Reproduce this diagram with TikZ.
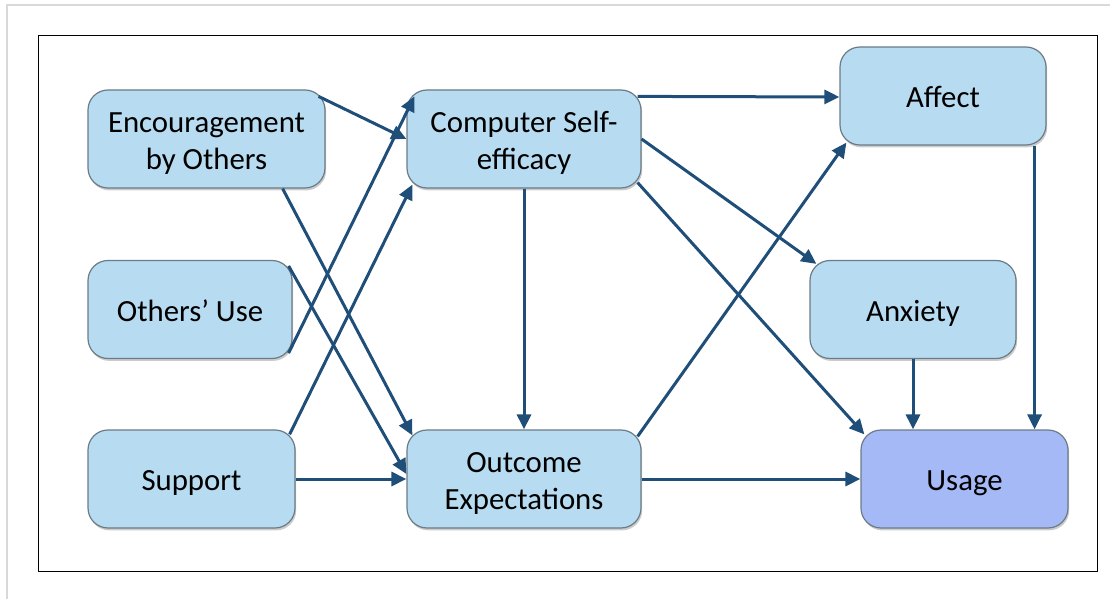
\documentclass[tikz,border=0pt]{standalone}
\usepackage{fontspec}
\setmainfont{Carlito}
\usetikzlibrary{arrows.meta,calc,shadows}
\definecolor{boxfill}{HTML}{B7DBF0}
\definecolor{usagefill}{HTML}{A5B9F6}
\definecolor{boxborder}{HTML}{6B7B87}
\definecolor{linkblue}{HTML}{1F4E79}
\definecolor{pageline}{HTML}{D9D9D9}
\newcommand\liftup{\rule{0pt}{\dimexpr0.952em+1pt\relax}}
\newcommand\dropdown{\rule[-0.269em]{0pt}{0pt}}

\begin{document}
\begin{tikzpicture}[
  x=0.5pt, y=-0.5pt,
  font=\fontsize{15.4}{18.5}\selectfont,
  >={Triangle[length=7.5pt, width=7pt]},
  factor/.style={draw=boxborder, line width=0.6pt, rounded corners=10pt, fill=boxfill, align=center, inner sep=0pt, minimum height=49pt,
    drop shadow={shadow xshift=0.6pt, shadow yshift=-1.2pt, opacity=0.4}},
  outcome/.style={factor, fill=usagefill},
  link/.style={->, draw=linkblue, line width=1.5pt}
]
\useasboundingbox (0,0) rectangle (1120,599);
\draw[pageline, line width=0.75pt] (7,599) -- (7,5) -- (1110,5);
\draw[line width=0.5pt] (38,36) rectangle (1097,571);

% antecedents
\node[factor, minimum width=118.5pt] (enc) at (206.5,139) {\liftup Encouragement\\by Others\dropdown};
\node[factor, minimum width=102pt] (others) at (190,309.5) {\liftup Others’ Use\dropdown};
\node[factor, minimum width=103.5pt] (support) at (191.5,479) {\liftup Support\dropdown};

% beliefs
\node[factor, minimum width=117pt] (cse) at (524,139) {\liftup Computer Self-\\efficacy\dropdown};
\node[factor, minimum width=117pt] (oe) at (524,479) {\liftup Outcome\\Expectations\dropdown};

% reactions and usage
\node[factor, minimum width=103pt] (affect) at (943,96) {\liftup Affect\dropdown};
\node[factor, minimum width=103pt] (anx) at (913,309.5) {\liftup Anxiety\dropdown};
\node[outcome, minimum width=103.5pt] (usage) at (964.5,479) {\liftup Usage\dropdown};

% into self-efficacy
\draw[link] ($(enc.north east)+(-7,7)$) -- (cse.west);
\draw[link] ($(others.south east)+(-4,-6)$) -- ($(cse.north west)+(8,7)$);
\draw[link] ($(support.north east)+(-6,5)$) -- ($(cse.south west)+(6,-4)$);

% into outcome expectations
\draw[link] ($(enc.south east)+(-43,0)$) -- ($(oe.north west)+(6,6)$);
\draw[link] ($(others.north east)+(-4,6)$) -- ($(oe.west)+(0,-5)$);
\draw[link] (support.east) -- (oe.west);
\draw[link] (cse.south) -- (oe.north);

% to affect, anxiety, usage
\draw[link] ($(cse.north east)+(-4,7)$) -- ($(affect.west)+(0,1)$);
\draw[link] (cse.east) -- ($(anx.north west)+(7,4)$);
\draw[link] ($(cse.south east)+(-4,-6)$) -- ($(usage.north west)+(4,5)$);
\draw[link] ($(oe.north east)+(-4,7)$) -- ($(affect.south west)+(7,-3)$);
\draw[link] (oe.east) -- (usage.west);
\draw[link] (anx.south) -- (anx.south |- usage.north);
\draw[link] ($(affect.south east)+(-12,0)$) coordinate (affout) -- (affout |- usage.north);

\end{tikzpicture}
\end{document}
